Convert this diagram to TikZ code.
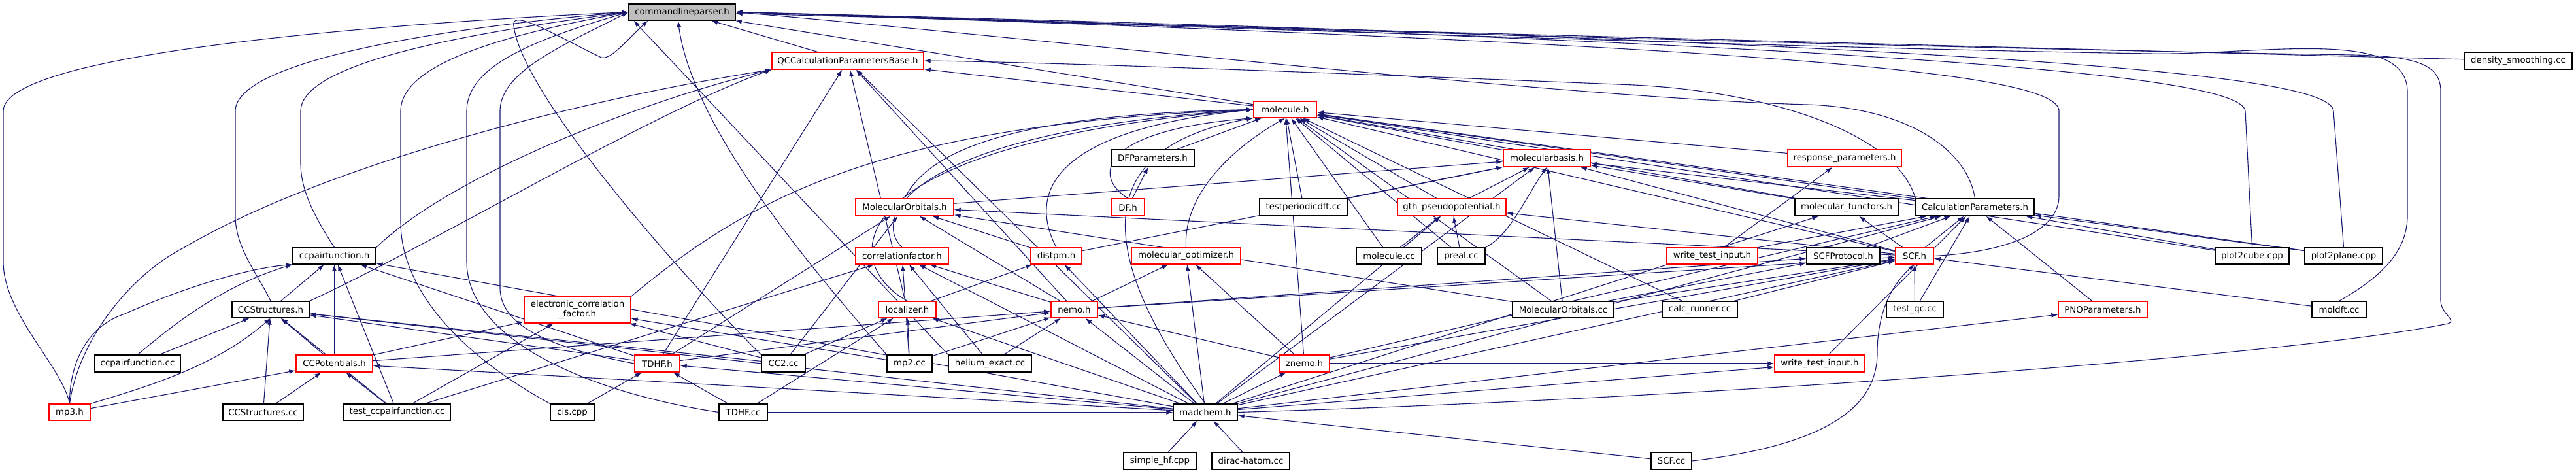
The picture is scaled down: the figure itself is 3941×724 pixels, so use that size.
\documentclass[tikz,border=0pt]{standalone}
\usepackage{fontspec}
\setmainfont{DejaVu Sans}
\usetikzlibrary{arrows.meta}
\pgfdeclarelayer{background}
\pgfsetlayers{background,main}
\definecolor{edgecol}{HTML}{191970}
\definecolor{redb}{HTML}{FF0000}
\definecolor{rootfill}{HTML}{BFBFBF}
\tikzset{
 box/.style={draw=black, line width=1.3pt, fill=white, inner sep=0pt, font=\fontsize{13.3}{15}\selectfont},
 redbox/.style={box, draw=redb},
 rootbox/.style={box, fill=rootfill},
 e/.style={draw=edgecol, line width=1.1pt, -{Latex[length=10pt,width=7pt]}},
}
\newcommand{\nd}[7]{\node[#7, minimum width={#4-#2}, minimum height={#5-#3}] (#1) at ({(#2+#4)/2},{(#3+#5)/2}) {#6};}
\begin{document}
\begin{tikzpicture}[x=1pt,y=-1pt]
\useasboundingbox (0,0) rectangle (3941,724);
\nd{cmd}{962}{6}{1125}{31}{commandlineparser.h}{rootbox}
\nd{qcb}{1181}{80}{1413}{106}{QCCalculationParametersBase.h}{redbox}
\nd{mol}{1918}{155}{2014}{180}{molecule.h}{redbox}
\nd{dens}{3770}{80}{3935}{106}{density\_smoothing.cc}{box}
\nd{dfp}{1700}{229}{1827}{255}{DFParameters.h}{box}
\nd{mbas}{2300}{229}{2433}{255}{molecularbasis.h}{redbox}
\nd{resp}{2735}{229}{2909}{255}{response\_parameters.h}{redbox}
\nd{mo}{1309}{304}{1459}{330}{MolecularOrbitals.h}{redbox}
\nd{df}{1700}{304}{1751}{330}{DF.h}{redbox}
\nd{tpd}{1927}{304}{2062}{330}{testperiodicdft.cc}{box}
\nd{gth}{2138}{304}{2304}{330}{gth\_pseudopotential.h}{redbox}
\nd{mfun}{2746}{304}{2904}{330}{molecular\_functors.h}{box}
\nd{calc}{2931}{304}{3112}{330}{CalculationParameters.h}{box}
\nd{ccpf}{448}{379}{575}{404}{ccpairfunction.h}{box}
\nd{corr}{1309}{379}{1451}{404}{correlationfactor.h}{redbox}
\nd{dist}{1577}{379}{1655}{404}{distpm.h}{redbox}
\nd{mopt}{1731}{379}{1898}{404}{molecular\_optimizer.h}{redbox}
\nd{molcc}{2075}{379}{2175}{404}{molecule.cc}{box}
\nd{preal}{2199}{379}{2272}{404}{preal.cc}{box}
\nd{wti1}{2550}{379}{2689}{404}{write\_test\_input.h}{redbox}
\nd{scfp}{2764}{379}{2876}{404}{SCFProtocol.h}{box}
\nd{scf}{2900}{379}{2958}{404}{SCF.h}{redbox}
\nd{p2c}{3389}{379}{3502}{404}{plot2cube.cpp}{box}
\nd{p2p}{3526}{379}{3645}{404}{plot2plane.cpp}{box}
\nd{ccs}{355}{461}{473}{486}{CCStructures.h}{box}
\nd{ecf}{802}{454}{965}{494}{electronic\_correlation\\\_factor.h}{redbox, align=center}
\nd{loc}{1344}{461}{1432}{486}{localizer.h}{redbox}
\nd{nemo}{1608}{461}{1679}{486}{nemo.h}{redbox}
\nd{moc}{2314}{461}{2469}{486}{MolecularOrbitals.cc}{box}
\nd{calcr}{2543}{461}{2658}{486}{calc\_runner.cc}{box}
\nd{tqc}{2886}{461}{2973}{486}{test\_qc.cc}{box}
\nd{pno}{3149}{461}{3285}{486}{PNOParameters.h}{redbox}
\nd{moldft}{3537}{461}{3620}{486}{moldft.cc}{box}
\nd{ccpfcc}{145}{543}{276}{569}{ccpairfunction.cc}{box}
\nd{ccp}{453}{543}{570}{569}{CCPotentials.h}{redbox}
\nd{tdhf}{971}{543}{1040}{569}{TDHF.h}{redbox}
\nd{cc2}{1165}{543}{1232}{569}{CC2.cc}{box}
\nd{mp2}{1357}{543}{1426}{569}{mp2.cc}{box}
\nd{he}{1451}{543}{1578}{569}{helium\_exact.cc}{box}
\nd{znemo}{1957}{543}{2034}{569}{znemo.h}{redbox}
\nd{wti2}{2715}{543}{2853}{569}{write\_test\_input.h}{redbox}
\nd{mp3}{75}{618}{138}{643}{mp3.h}{redbox}
\nd{ccscc}{341}{618}{464}{643}{CCStructures.cc}{box}
\nd{tccpf}{526}{618}{689}{643}{test\_ccpairfunction.cc}{box}
\nd{cis}{842}{618}{909}{643}{cis.cpp}{box}
\nd{tdhfcc}{1100}{618}{1174}{643}{TDHF.cc}{box}
\nd{mad}{1795}{618}{1893}{643}{madchem.h}{box}
\nd{shf}{1719}{692}{1830}{718}{simple\_hf.cpp}{box}
\nd{dirac}{1854}{692}{1973}{718}{dirac-hatom.cc}{box}
\nd{scfcc}{2526}{692}{2588}{718}{SCF.cc}{box}
\begin{pgfonlayer}{background}
\fill[white] (0,0) rectangle (3941,724);
\foreach \a/\b in {qcb/cmd, mol/cmd, dens/cmd,
 mol/qcb, tdhf/qcb, loc/qcb, nemo/qcb, mad/qcb,
 dfp/mol, df/dfp, tpd/mol, gth/mol, molcc/mol, preal/mol, znemo/mol, mbas/mol, resp/mol, mfun/mol, calc/mol, scf/mol, moc/mol, calcr/mol, p2c/mol, p2p/mol,
 gth/mbas, tpd/mbas, moc/mbas, mad/mbas, scf/mbas, mfun/mbas, calc/mbas, dist/mbas, mo/mbas,
 molcc/gth, preal/gth, mad/gth, scf/gth,
 tdhf/mo, cc2/mo, nemo/mo, dist/mo, moc/mo, scf/mo,
 nemo/corr, mp2/corr, he/corr, mad/corr, tccpf/corr,
 loc/dist, mad/dist,
 nemo/mopt, mad/mopt, znemo/mopt,
 cc2/loc, mp2/loc, tdhfcc/loc, mad/loc,
 tdhf/nemo, mp2/nemo, he/nemo, mad/nemo, znemo/nemo, ccp/nemo,
 ccp/ecf, tccpf/ecf, cc2/ecf, mp2/ecf,
 ccs/ccpf, ccp/ccpf, tccpf/ccpf, tdhf/ccpf, mad/ccpf,
 ccscc/ccs, ccp/ccs, tccpf/ccs, tdhf/ccs, mad/ccs, cc2/ccs, ccpfcc/ccs,
 mp3/ccp, ccscc/ccp, tccpf/ccp, mad/ccp,
 tdhfcc/tdhf, cis/tdhf, mad/tdhf,
 mad/znemo, shf/mad, dirac/mad,
 nemo/scfp, moc/scfp, scfp/calc,
 tqc/scf, calcr/scf, moc/scf, nemo/scf, mad/scf, znemo/scf, moldft/scf,
 scf/calc, wti1/calc, tqc/calc, mad/calc, pno/calc, p2c/calc, p2p/calc, wti2/calc, znemo/calc,
 scf/mfun, mad/mfun,
 wti1/resp, mad/pno, mad/wti2, znemo/wti2, scfcc/mad, tdhfcc/mad}
 {\draw[e] (\a) -- (\b);}
% curved routes in the lower left
\draw[e] (mp3.north) .. controls (106,560) and (130,500) .. (191,480) .. controls (280,440) and (380,410) .. (ccpf.south west);
\draw[e] (mp3.north east) .. controls (230,590) and (330,560) .. (ccs.south);
\draw[e] (ccpfcc.north) .. controls (250,510) and (330,440) .. (ccpf.south west);
\draw[e] (preal.north east) .. controls (2310,360) and (2335,300) .. (mbas.south);
% long routes into commandlineparser.h
\draw[e] (mp3.north) .. controls (95,560) and (5,480) .. (5,400) -- (5,170) .. controls (5,80) and (600,35) .. (cmd.west);
\draw[e] (ccs.north) .. controls (395,420) and (360,380) .. (360,330) -- (360,170) .. controls (360,90) and (700,40) .. (cmd.west);
\draw[e] (ccpf.north) .. controls (480,330) and (460,290) .. (460,250) -- (460,170) .. controls (460,90) and (760,45) .. (cmd.west);
\draw[e] (cis.north west) .. controls (700,540) and (613,440) .. (613,340) -- (613,170) .. controls (613,100) and (760,55) .. (cmd.west);
\draw[e] (tdhfcc.west) .. controls (900,600) and (714,520) .. (714,400) -- (714,170) .. controls (714,100) and (820,60) .. (cmd.west);
\draw[e] (tdhf.west) .. controls (860,535) and (765,505) .. (765,440) -- (765,170) .. controls (765,110) and (860,70) .. (cmd.west);
\draw[e] (cc2.north west) .. controls (1060,440) and (800,150) .. (786,40) .. controls (780,10) and (860,60) .. (920,88) .. controls (935,92) and (960,60) .. ([xshift=30pt]cmd.south west);
\draw[e] (mp2.north west) .. controls (1250,420) and (1060,200) .. ([xshift=76pt]cmd.south west);
\draw[e] (he.north west) -- ([xshift=8pt]cmd.south west);
\draw[e] (scf.east) .. controls (3080,385) and (3150,350) .. (3150,300) -- (3150,170) .. controls (3150,110) and (2700,70) .. (cmd.east);
\draw[e] (p2c.north) -- (3435,170) .. controls (3430,120) and (3000,70) .. (cmd.east);
\draw[e] (p2p.north) -- (3570,170) .. controls (3565,120) and (3200,70) .. (cmd.east);
\draw[e] (moldft.north) .. controls (3650,420) and (3683,380) .. (3683,330) -- (3683,140) .. controls (3683,40) and (3450,85) .. (3290,82) .. controls (2800,75) and (1800,40) .. (cmd.east);
\draw[e] (mad.east) .. controls (2600,610) and (3500,545) .. (3745,495) .. controls (3760,490) and (3734,480) .. (3734,460) -- (3734,140) .. controls (3734,100) and (3700,86) .. (3600,84) .. controls (3000,75) and (1800,40) .. (cmd.east);
\draw[e] (calc.north) .. controls (3010,230) and (2920,165) .. (2765,160) .. controls (2400,150) and (1600,60) .. (cmd.east);
% into QCCalculationParametersBase.h
\draw[e] (mp3.north) .. controls (120,520) and (200,420) .. (281,379) .. controls (500,250) and (900,150) .. (qcb.south west);
\draw[e] (ccpf.north east) .. controls (700,260) and (1000,150) .. (qcb.south west);
\draw[e] (ccs.north east) .. controls (650,380) and (1000,170) .. (qcb.south west);
\draw[e] (calc.north west) .. controls (2900,200) and (2700,140) .. (2500,130) .. controls (2000,110) and (1600,95) .. (qcb.east);
% into molecule.h
\draw[e] (mo.north) .. controls (1420,230) and (1550,175) .. (mol.west);
\draw[e] (loc.north) .. controls (1280,400) and (1280,220) .. (mol.west);
\draw[e] (corr.north) .. controls (1330,330) and (1400,200) .. (mol.west);
\draw[e] (ecf.north east) .. controls (1150,300) and (1350,190) .. (mol.west);
\draw[e] (dist.north) .. controls (1575,300) and (1600,200) .. (mol.west);
\draw[e] (mopt.north) .. controls (1810,300) and (1880,230) .. (mol.south);
\draw[e] (mad.north) .. controls (1700,420) and (1640,230) .. (mol.south west);
\draw[e] (df.north) .. controls (1672,270) and (1680,200) .. (mol.south west);
\draw[e] (scfcc.east) .. controls (2800,680) and (2872,620) .. (2872,540) .. controls (2872,470) and (2900,430) .. (scf.south);
\end{pgfonlayer}
\end{tikzpicture}
\end{document}
